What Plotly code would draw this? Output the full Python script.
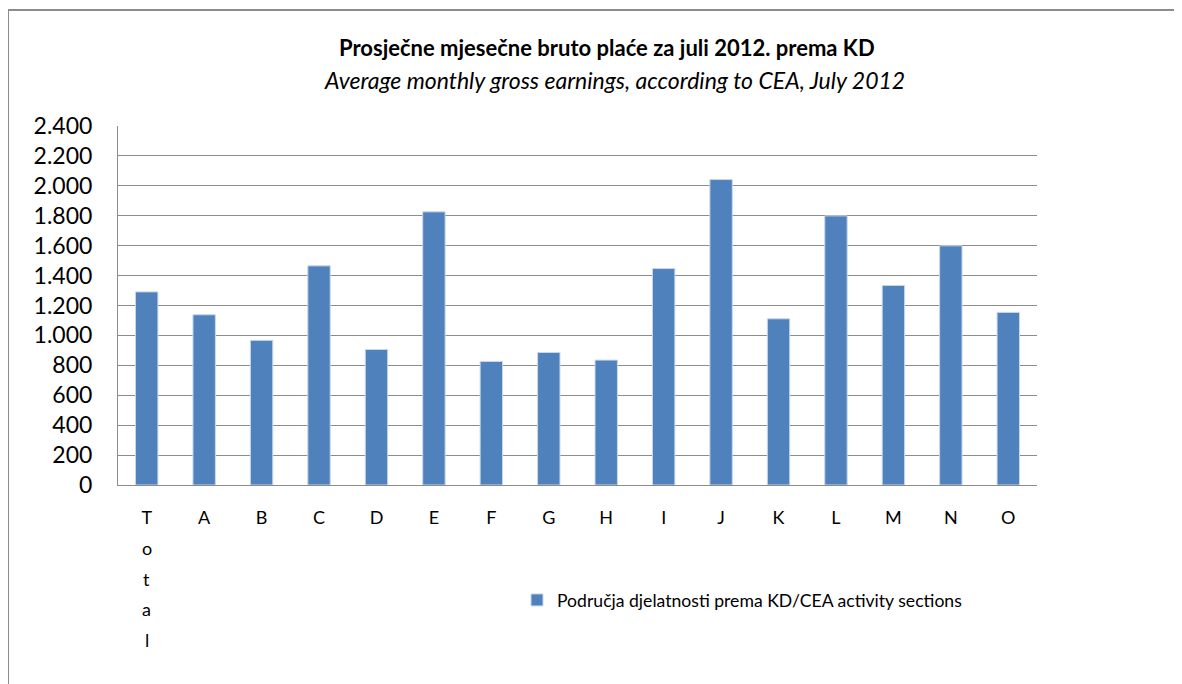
import plotly.graph_objects as go

categories = ["Total", "A", "B", "C", "D", "E", "F", "G", "H", "I", "J", "K", "L", "M", "N", "O"]
earnings = [1291, 1138, 967, 1465, 906, 1826, 826, 886, 835, 1447, 2042, 1111, 1799, 1334, 1599, 1154]
series_name = "Područja djelatnosti prema KD/CEA activity sections"
title_hr = "Prosječne mjesečne bruto plaće za juli 2012. prema KD"
title_en = "Average monthly gross earnings, according to CEA, July 2012"
y_ticks = list(range(0, 2401, 200))

FONT = "Lato"
OFF = 8  # page body margin
W, H = 1182 - OFF, 684 - OFF
L, R, T, B = 118, 1037, 126, 485  # target screen pixels of plot area

def px_x(px):
    return (px - L) / (R - L)

def px_y(py):
    return (B - py) / (B - T)

tick_text = [c if len(c) == 1 else c[0] for c in categories]

fig = go.Figure()
fig.add_trace(go.Bar(
    x=categories, y=earnings, name=series_name,
    marker=dict(color="#4F81BD", line=dict(color="#C9D7EA", width=1)),
    width=0.39, showlegend=True,
))

annotations = [
    dict(text="<b>" + title_hr + "</b>", x=px_x(607), y=px_y(47), xref="paper", yref="paper",
         showarrow=False, font=dict(family=FONT, size=22, color="#000000"), xanchor="center", yanchor="middle"),
    dict(text="<i>" + title_en + "</i>", x=px_x(614), y=px_y(80), xref="paper", yref="paper",
         showarrow=False, font=dict(family=FONT, size=23, color="#000000"), xanchor="center", yanchor="middle"),
]
# remaining letters of multi-letter category labels, stacked vertically
for c in categories:
    if len(c) > 1:
        for i, ch in enumerate(c[1:], start=1):
            annotations.append(dict(text=ch, x=c, xref="x", y=px_y(517 + 30.8 * i), yref="paper",
                                    showarrow=False, font=dict(family=FONT, size=18, color="#000000"),
                                    xanchor="center", yanchor="middle"))

fig.update_layout(
    width=W, height=H,
    margin=dict(l=L - OFF, r=1182 - R, t=T - OFF, b=684 - B, pad=0),
    paper_bgcolor="white", plot_bgcolor="white",
    separators=",.",
    font=dict(family=FONT, color="#000000"),
    annotations=annotations,
    legend=dict(orientation="h", x=px_x(517), y=px_y(600), xanchor="left", yanchor="middle",
                font=dict(family=FONT, size=17.6, color="#000000"), bgcolor="rgba(0,0,0,0)"),
    shapes=[dict(type="rect", xref="paper", yref="paper",
                 x0=px_x(8), x1=px_x(1250), y0=px_y(750), y1=px_y(10),
                 line=dict(color="#8C8C8C", width=2), layer="below")],
)
fig.update_xaxes(
    type="category", tickmode="array", tickvals=categories, ticktext=tick_text,
    showline=True, linecolor="#8C8C8C", linewidth=1, ticks="", showgrid=False,
    tickfont=dict(family=FONT, size=18, color="#000000"), ticklabelstandoff=16,
)
fig.update_yaxes(
    range=[0, 2400], tickvals=y_ticks, tickformat=",d",
    showline=True, linecolor="#8C8C8C", linewidth=1, ticks="",
    showgrid=True, gridcolor="#8C8C8C", gridwidth=1, zeroline=False,
    tickfont=dict(family=FONT, size=23, color="#000000"), ticklabelstandoff=20,
)
fig.write_html("out.html")
